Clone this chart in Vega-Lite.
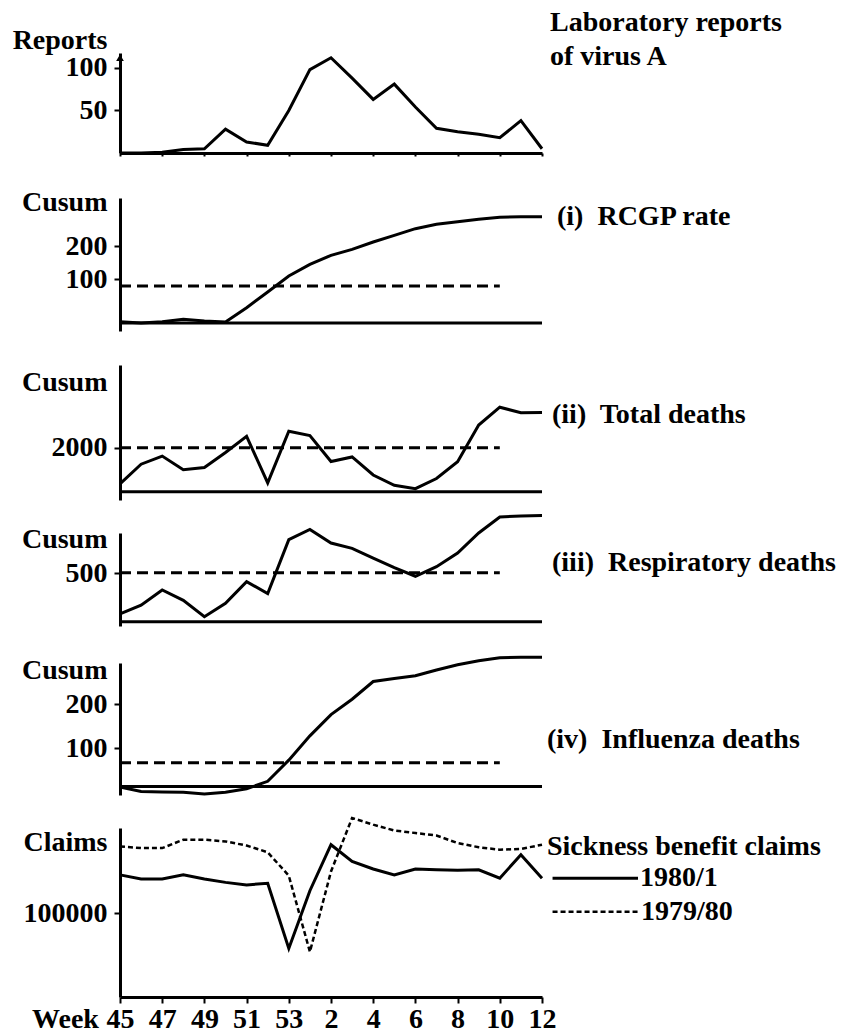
{
  "$schema": "https://vega.github.io/schema/vega-lite/v6.json",
  "padding": {"left": 12, "top": 8, "right": 5, "bottom": 3},
  "background": "white",
  "config": {
    "view": {"stroke": null},
    "font": "Liberation Serif",
    "axis": {"domainColor": "black", "domainWidth": 3, "tickColor": "black", "tickWidth": 2, "grid": false,
      "labelFont": "Liberation Serif", "labelFontWeight": "bold", "labelFontSize": 28, "labelColor": "black",
      "titleFont": "Liberation Serif", "titleFontWeight": "bold", "titleFontSize": 28, "titleColor": "black"},
    "text": {"font": "Liberation Serif", "fontWeight": "bold", "fontSize": 28, "color": "black"}
  },
  "datasets": {
    "reports": [
      {"t":0,"week":45,"v":0},{"t":1,"week":46,"v":0},{"t":2,"week":47,"v":1},{"t":3,"week":48,"v":4},{"t":4,"week":49,"v":5},
      {"t":5,"week":50,"v":28},{"t":6,"week":51,"v":13},{"t":7,"week":52,"v":9},{"t":8,"week":53,"v":50},{"t":9,"week":1,"v":98},
      {"t":10,"week":2,"v":112},{"t":11,"week":3,"v":88},{"t":12,"week":4,"v":63},{"t":13,"week":5,"v":81},{"t":14,"week":6,"v":54},
      {"t":15,"week":7,"v":29},{"t":16,"week":8,"v":25},{"t":17,"week":9,"v":22},{"t":18,"week":10,"v":18},{"t":19,"week":11,"v":38},{"t":20,"week":12,"v":5}
    ],
    "rcgp": [
      {"t":0,"week":45,"v":-27},{"t":1,"week":46,"v":-31},{"t":2,"week":47,"v":-27},{"t":3,"week":48,"v":-20},{"t":4,"week":49,"v":-25},
      {"t":5,"week":50,"v":-28},{"t":6,"week":51,"v":15},{"t":7,"week":52,"v":62},{"t":8,"week":53,"v":110},{"t":9,"week":1,"v":145},
      {"t":10,"week":2,"v":172},{"t":11,"week":3,"v":190},{"t":12,"week":4,"v":212},{"t":13,"week":5,"v":232},{"t":14,"week":6,"v":252},
      {"t":15,"week":7,"v":265},{"t":16,"week":8,"v":273},{"t":17,"week":9,"v":280},{"t":18,"week":10,"v":286},{"t":19,"week":11,"v":288},{"t":20,"week":12,"v":288}
    ],
    "total": [
      {"t":0,"week":45,"v":360},{"t":1,"week":46,"v":1250},{"t":2,"week":47,"v":1620},{"t":3,"week":48,"v":1000},{"t":4,"week":49,"v":1100},
      {"t":5,"week":50,"v":1780},{"t":6,"week":51,"v":2520},{"t":7,"week":52,"v":400},{"t":8,"week":53,"v":2750},{"t":9,"week":1,"v":2550},
      {"t":10,"week":2,"v":1370},{"t":11,"week":3,"v":1580},{"t":12,"week":4,"v":760},{"t":13,"week":5,"v":290},{"t":14,"week":6,"v":140},
      {"t":15,"week":7,"v":600},{"t":16,"week":8,"v":1360},{"t":17,"week":9,"v":3030},{"t":18,"week":10,"v":3840},{"t":19,"week":11,"v":3590},{"t":20,"week":12,"v":3600}
    ],
    "resp": [
      {"t":0,"week":45,"v":80},{"t":1,"week":46,"v":170},{"t":2,"week":47,"v":327},{"t":3,"week":48,"v":220},{"t":4,"week":49,"v":52},
      {"t":5,"week":50,"v":190},{"t":6,"week":51,"v":413},{"t":7,"week":52,"v":290},{"t":8,"week":53,"v":844},{"t":9,"week":1,"v":950},
      {"t":10,"week":2,"v":810},{"t":11,"week":3,"v":755},{"t":12,"week":4,"v":655},{"t":13,"week":5,"v":556},{"t":14,"week":6,"v":468},
      {"t":15,"week":7,"v":566},{"t":16,"week":8,"v":707},{"t":17,"week":9,"v":913},{"t":18,"week":10,"v":1078},{"t":19,"week":11,"v":1088},{"t":20,"week":12,"v":1092}
    ],
    "flu": [
      {"t":0,"week":45,"v":12},{"t":1,"week":46,"v":2},{"t":2,"week":47,"v":1},{"t":3,"week":48,"v":0},{"t":4,"week":49,"v":-4},
      {"t":5,"week":50,"v":0},{"t":6,"week":51,"v":8},{"t":7,"week":52,"v":25},{"t":8,"week":53,"v":73},{"t":9,"week":1,"v":128},
      {"t":10,"week":2,"v":176},{"t":11,"week":3,"v":211},{"t":12,"week":4,"v":251},{"t":13,"week":5,"v":258},{"t":14,"week":6,"v":264},
      {"t":15,"week":7,"v":277},{"t":16,"week":8,"v":289},{"t":17,"week":9,"v":298},{"t":18,"week":10,"v":305},{"t":19,"week":11,"v":306},{"t":20,"week":12,"v":306}
    ],
    "claims": [
      {"t":0,"week":45,"season":"1980/1","v":146000},{"t":1,"week":46,"season":"1980/1","v":141000},{"t":2,"week":47,"season":"1980/1","v":141000},
      {"t":3,"week":48,"season":"1980/1","v":146000},{"t":4,"week":49,"season":"1980/1","v":141000},{"t":5,"week":50,"season":"1980/1","v":137000},
      {"t":6,"week":51,"season":"1980/1","v":134000},{"t":7,"week":52,"season":"1980/1","v":136000},{"t":8,"week":53,"season":"1980/1","v":58000},
      {"t":9,"week":1,"season":"1980/1","v":127000},{"t":10,"week":2,"season":"1980/1","v":182000},{"t":11,"week":3,"season":"1980/1","v":162000},
      {"t":12,"week":4,"season":"1980/1","v":153000},{"t":13,"week":5,"season":"1980/1","v":146000},{"t":14,"week":6,"season":"1980/1","v":153000},
      {"t":15,"week":7,"season":"1980/1","v":152000},{"t":16,"week":8,"season":"1980/1","v":151500},{"t":17,"week":9,"season":"1980/1","v":152000},
      {"t":18,"week":10,"season":"1980/1","v":142000},{"t":19,"week":11,"season":"1980/1","v":170000},{"t":20,"week":12,"season":"1980/1","v":142000},
      {"t":0,"week":45,"season":"1979/80","v":180000},{"t":1,"week":46,"season":"1979/80","v":178000},{"t":2,"week":47,"season":"1979/80","v":178000},
      {"t":3,"week":48,"season":"1979/80","v":188000},{"t":4,"week":49,"season":"1979/80","v":188000},{"t":5,"week":50,"season":"1979/80","v":186000},
      {"t":6,"week":51,"season":"1979/80","v":181000},{"t":7,"week":52,"season":"1979/80","v":173000},{"t":8,"week":53,"season":"1979/80","v":145000},
      {"t":9,"week":1,"season":"1979/80","v":54000},{"t":10,"week":2,"season":"1979/80","v":150000},{"t":11,"week":3,"season":"1979/80","v":214000},
      {"t":12,"week":4,"season":"1979/80","v":206000},{"t":13,"week":5,"season":"1979/80","v":199000},{"t":14,"week":6,"season":"1979/80","v":196000},
      {"t":15,"week":7,"season":"1979/80","v":193000},{"t":16,"week":8,"season":"1979/80","v":184000},{"t":17,"week":9,"season":"1979/80","v":179000},
      {"t":18,"week":10,"season":"1979/80","v":176000},{"t":19,"week":11,"season":"1979/80","v":177000},{"t":20,"week":12,"season":"1979/80","v":182000}
    ],
    "thresholds": [
      {"panel":"rcgp","v":80,"t0":0,"t1":18},
      {"panel":"total","v":2000,"t0":0,"t1":18},
      {"panel":"resp","v":505,"t0":0,"t1":18},
      {"panel":"flu","v":67,"t0":0,"t1":18}
    ]
  },
  "bounds": "flush",
  "spacing": 45,
  "vconcat": [
    {
      "width": 422, "height": 100,
      "layer": [
        {"data": {"name": "reports"},
         "mark": {"type": "line", "color": "black", "strokeWidth": 3},
         "encoding": {
           "x": {"field": "t", "type": "quantitative", "scale": {"domain": [0, 20], "nice": false},
                 "axis": {"values": [0,2,4,6,8,10,12,14,16,18,20], "labels": false, "tickSize": 3, "title": null}},
           "y": {"field": "v", "type": "quantitative", "scale": {"domain": [0, 117.6], "nice": false},
                 "axis": {"values": [50, 100], "tickSize": 6, "labelPadding": 7, "title": "Reports", "titleAngle": 0, "titleAlign": "right", "titleBaseline": "middle", "titleX": -13, "titleY": -13}}
         }},
        {"data": {"values": [{}]},
         "mark": {"type": "point", "shape": "triangle-up", "filled": true, "color": "black", "size": 60, "opacity": 1},
         "encoding": {"x": {"datum": 0}, "y": {"datum": 112}}},
        {"data": {"values": [{}]},
         "mark": {"type": "text", "align": "left", "baseline": "middle", "dx": 8},
         "encoding": {"x": {"datum": 20}, "y": {"datum": 153}, "text": {"value": "Laboratory reports"}}},
        {"data": {"values": [{}]},
         "mark": {"type": "text", "align": "left", "baseline": "middle", "dx": 8},
         "encoding": {"x": {"datum": 20}, "y": {"datum": 113}, "text": {"value": "of virus A"}}}
      ]
    },
    {
      "bounds": "flush",
      "spacing": 34,
      "vconcat": [
        {
          "width": 422, "height": 133,
          "layer": [
            {"data": {"name": "rcgp"},
             "mark": {"type": "line", "color": "black", "strokeWidth": 3},
             "encoding": {
               "x": {"field": "t", "type": "quantitative", "scale": {"domain": [0, 20], "nice": false}, "axis": null},
               "y": {"field": "v", "type": "quantitative", "scale": {"domain": [-55, 344], "nice": false, "zero": false},
                     "axis": {"values": [100, 200], "tickSize": 6, "labelPadding": 7, "title": "Cusum", "titleAngle": 0, "titleAlign": "right", "titleBaseline": "middle", "titleX": -13, "titleY": 4}}
             }},
            {"data": {"values": [{}]},
             "mark": {"type": "rule", "color": "black", "strokeWidth": 3},
             "encoding": {"y": {"datum": -31}}},
            {"data": {"name": "thresholds"},
             "transform": [{"filter": "datum.panel === 'rcgp'"}],
             "mark": {"type": "rule", "color": "black", "strokeWidth": 3, "strokeDash": [11, 6]},
             "encoding": {"x": {"field": "t0", "type": "quantitative"}, "x2": {"field": "t1"}, "y": {"field": "v", "type": "quantitative"}}},
            {"data": {"values": [{}]},
             "mark": {"type": "text", "align": "left", "baseline": "middle", "dx": 15},
             "encoding": {"x": {"datum": 20}, "y": {"datum": 288}, "text": {"value": "(i)\u00a0 RCGP rate"}}}
          ]
        },
        {
          "bounds": "flush",
          "spacing": 33,
          "vconcat": [
            {
              "width": 422, "height": 135,
              "layer": [
                {"data": {"name": "total"},
                 "mark": {"type": "line", "color": "black", "strokeWidth": 3},
                 "encoding": {
                   "x": {"field": "t", "type": "quantitative", "scale": {"domain": [0, 20], "nice": false}, "axis": null},
                   "y": {"field": "v", "type": "quantitative", "scale": {"domain": [-377, 5759], "nice": false, "zero": false},
                         "axis": {"values": [2000], "format": "d", "tickSize": 6, "labelPadding": 7, "title": "Cusum", "titleAngle": 0, "titleAlign": "right", "titleBaseline": "middle", "titleX": -13, "titleY": 17}}
                 }},
                {"data": {"values": [{}]},
                 "mark": {"type": "rule", "color": "black", "strokeWidth": 3},
                 "encoding": {"y": {"datum": 0}}},
                {"data": {"name": "thresholds"},
                 "transform": [{"filter": "datum.panel === 'total'"}],
                 "mark": {"type": "rule", "color": "black", "strokeWidth": 3, "strokeDash": [11, 6]},
                 "encoding": {"x": {"field": "t0", "type": "quantitative"}, "x2": {"field": "t1"}, "y": {"field": "v", "type": "quantitative"}}},
                {"data": {"values": [{}]},
                 "mark": {"type": "text", "align": "left", "baseline": "middle", "dx": 10},
                 "encoding": {"x": {"datum": 20}, "y": {"datum": 3486}, "text": {"value": "(ii)\u00a0 Total deaths"}}}
              ]
            },
            {
              "bounds": "flush",
              "spacing": 37,
              "vconcat": [
                {
                  "width": 422, "height": 93,
                  "layer": [
                    {"data": {"name": "resp"},
                     "mark": {"type": "line", "color": "black", "strokeWidth": 3},
                     "encoding": {
                       "x": {"field": "t", "type": "quantitative", "scale": {"domain": [0, 20], "nice": false}, "axis": null},
                       "y": {"field": "v", "type": "quantitative", "scale": {"domain": [-44, 913], "nice": false, "zero": false},
                             "axis": {"values": [500], "tickSize": 6, "labelPadding": 7, "title": "Cusum", "titleAngle": 0, "titleAlign": "right", "titleBaseline": "middle", "titleX": -13, "titleY": 6}}
                     }},
                    {"data": {"values": [{}]},
                     "mark": {"type": "rule", "color": "black", "strokeWidth": 3},
                     "encoding": {"y": {"datum": 0}}},
                    {"data": {"name": "thresholds"},
                     "transform": [{"filter": "datum.panel === 'resp'"}],
                     "mark": {"type": "rule", "color": "black", "strokeWidth": 3, "strokeDash": [11, 6]},
                     "encoding": {"x": {"field": "t0", "type": "quantitative"}, "x2": {"field": "t1"}, "y": {"field": "v", "type": "quantitative"}}},
                    {"data": {"values": [{}]},
                     "mark": {"type": "text", "align": "left", "baseline": "middle", "dx": 10},
                     "encoding": {"x": {"datum": 20}, "y": {"datum": 603}, "text": {"value": "(iii)\u00a0 Respiratory deaths"}}}
                  ]
                },
                {
                  "bounds": "flush",
                  "spacing": 33,
                  "vconcat": [
                    {
                      "width": 422, "height": 132,
                      "layer": [
                        {"data": {"name": "flu"},
                         "mark": {"type": "line", "color": "black", "strokeWidth": 3},
                         "encoding": {
                           "x": {"field": "t", "type": "quantitative", "scale": {"domain": [0, 20], "nice": false}, "axis": null},
                           "y": {"field": "v", "type": "quantitative", "scale": {"domain": [-6, 293], "nice": false, "zero": false},
                                 "axis": {"values": [100, 200], "tickSize": 6, "labelPadding": 7, "title": "Cusum", "titleAngle": 0, "titleAlign": "right", "titleBaseline": "middle", "titleX": -13, "titleY": 7}}
                         }},
                        {"data": {"values": [{}]},
                         "mark": {"type": "rule", "color": "black", "strokeWidth": 3},
                         "encoding": {"y": {"datum": 13}}},
                        {"data": {"name": "thresholds"},
                         "transform": [{"filter": "datum.panel === 'flu'"}],
                         "mark": {"type": "rule", "color": "black", "strokeWidth": 3, "strokeDash": [11, 6]},
                         "encoding": {"x": {"field": "t0", "type": "quantitative"}, "x2": {"field": "t1"}, "y": {"field": "v", "type": "quantitative"}}},
                        {"data": {"values": [{}]},
                         "mark": {"type": "text", "align": "left", "baseline": "middle", "dx": 5},
                         "encoding": {"x": {"datum": 20}, "y": {"datum": 119}, "text": {"value": "(iv)\u00a0 Influenza deaths"}}}
                      ]
                    },
                    {
                      "width": 422, "height": 169,
                      "layer": [
                        {"data": {"name": "claims"},
                         "transform": [{"filter": "datum.season === '1980/1'"}],
                         "mark": {"type": "line", "color": "black", "strokeWidth": 3},
                         "encoding": {
                           "x": {"field": "t", "type": "quantitative", "scale": {"domain": [0, 20], "nice": false},
                                 "axis": {"values": [0,2,4,6,8,10,12,14,16,18,20], "tickSize": 6, "labelPadding": 2, "labelFlush": false, "labelOverlap": false,
                                          "labelExpr": "datum.value <= 8 ? '' + (45 + datum.value) : '' + (datum.value - 8)",
                                          "title": "Week", "titleX": -55, "titleY": 22, "titleAlign": "center", "titleBaseline": "middle", "titleAnchor": null}},
                           "y": {"field": "v", "type": "quantitative", "scale": {"domain": [0, 202000], "nice": false},
                                 "axis": {"values": [100000], "format": "d", "tickSize": 6, "labelPadding": 7, "title": "Claims", "titleAngle": 0, "titleAlign": "right", "titleBaseline": "middle", "titleX": -13, "titleY": 14}}
                         }},
                        {"data": {"name": "claims"},
                         "transform": [{"filter": "datum.season === '1979/80'"}],
                         "mark": {"type": "line", "color": "black", "strokeWidth": 2.5, "strokeDash": [5, 3]},
                         "encoding": {
                           "x": {"field": "t", "type": "quantitative"},
                           "y": {"field": "v", "type": "quantitative"}
                         }},
                        {"data": {"values": [{}]},
                         "mark": {"type": "text", "align": "left", "baseline": "middle", "dx": 5},
                         "encoding": {"x": {"datum": 20}, "y": {"datum": 179600}, "text": {"value": "Sickness benefit claims"}}},
                        {"data": {"values": [{}]},
                         "mark": {"type": "rule", "color": "black", "strokeWidth": 3},
                         "encoding": {"x": {"datum": 20.5}, "x2": {"datum": 24.55}, "y": {"datum": 141800}}},
                        {"data": {"values": [{}]},
                         "mark": {"type": "text", "align": "left", "baseline": "middle", "dx": 2},
                         "encoding": {"x": {"datum": 24.55}, "y": {"datum": 141800}, "text": {"value": "1980/1"}}},
                        {"data": {"values": [{}]},
                         "mark": {"type": "rule", "color": "black", "strokeWidth": 2.5, "strokeDash": [5, 3]},
                         "encoding": {"x": {"datum": 20.5}, "x2": {"datum": 24.6}, "y": {"datum": 101900}}},
                        {"data": {"values": [{}]},
                         "mark": {"type": "text", "align": "left", "baseline": "middle", "dx": 2},
                         "encoding": {"x": {"datum": 24.6}, "y": {"datum": 101900}, "text": {"value": "1979/80"}}}
                      ]
                    }
                  ]
                }
              ]
            }
          ]
        }
      ]
    }
  ]
}
